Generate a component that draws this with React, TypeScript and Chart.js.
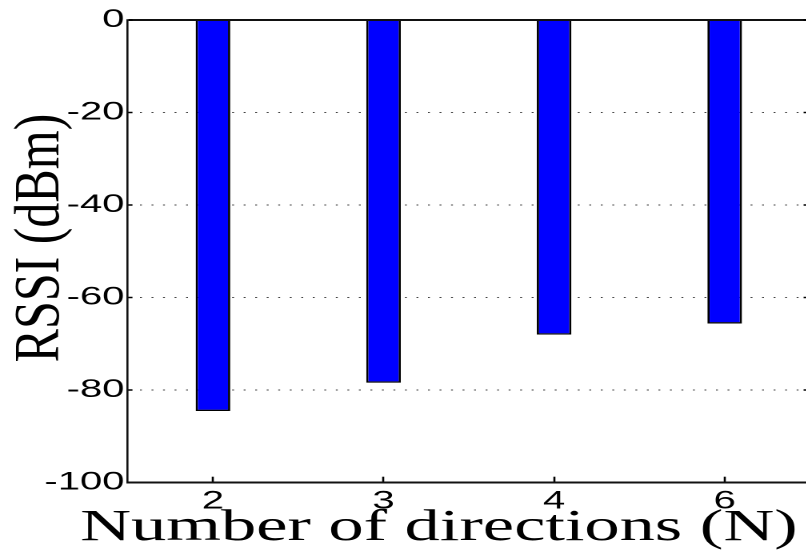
import React, { useEffect, useRef } from 'react';
import { Chart, registerables } from 'chart.js';

Chart.register(...registerables);

// ---- data ----
const categories = ['2', '3', '4', '6'];
const rssiValues = [-84.5, -78.4, -68.0, -65.6];
const yTickValues = [0, -20, -40, -60, -80, -100];
const X_TITLE = 'Number of directions (N)';
const Y_TITLE = 'RSSI (dBm)';

// ---- layout (internal canvas is stretched horizontally like the reference) ----
const STRETCH = 1.6;
const INNER_W = 512;
const OUT_W = 806;
const OUT_H = 554;

const titlesPlugin = {
  id: 'axisTitlesCustom',
  afterDraw(chart: any) {
    const { ctx, chartArea } = chart;
    ctx.save();
    ctx.fillStyle = '#000';
    // x title
    ctx.font = '44px "Liberation Serif"';
    ctx.textAlign = 'center';
    ctx.textBaseline = 'alphabetic';
    ctx.fillText(X_TITLE, chartArea.left + 194.5, chartArea.bottom + 57.3);
    // y title (rotated, less stretched)
    ctx.translate(26, 238);
    ctx.scale(0.81, 1);
    ctx.rotate(-Math.PI / 2);
    ctx.font = '50px "Liberation Serif"';
    ctx.textAlign = 'center';
    ctx.textBaseline = 'middle';
    ctx.fillText(Y_TITLE, 0, 0);
    ctx.restore();
  },
};

export default function App() {
  const canvasRef = useRef<HTMLCanvasElement | null>(null);

  useEffect(() => {
    if (!canvasRef.current) return;
    const tickFont = { family: '"Liberation Sans"', size: 25 };
    const setTicks = (s: any) => {
      s.ticks = yTickValues.map((v) => ({ value: v }));
    };
    const chart = new Chart(canvasRef.current, {
      type: 'bar',
      data: {
        labels: categories,
        datasets: [
          {
            data: rssiValues,
            backgroundColor: '#0000FF',
            borderColor: '#000',
            borderWidth: 1.4,
            barPercentage: 0.203,
            categoryPercentage: 1,
          },
        ],
      },
      options: {
        animation: false,
        responsive: true,
        maintainAspectRatio: false,
        devicePixelRatio: 2,
        layout: { padding: { left: 0, right: 5.75, top: 19, bottom: 0 } },
        plugins: {
          legend: { display: false },
          tooltip: { enabled: false },
          title: { display: false },
        },
        scales: {
          x: {
            type: 'category',
            offset: true,
            grid: {
              display: true,
              drawOnChartArea: false,
              offset: false,
              tickLength: -6,
              tickColor: '#000',
              tickWidth: 1.3,
              color: '#000',
            },
            border: { display: true, color: '#111', width: 2 },
            ticks: {
              color: '#000',
              font: tickFont,
              padding: 10,
              maxRotation: 0,
              autoSkip: false,
            },
            afterFit: (s: any) => {
              s.height = 71.3;
            },
          },
          y: {
            position: 'left',
            min: -100,
            max: 0,
            afterBuildTicks: setTicks,
            grid: {
              color: (c: any) =>
                c.tick && c.tick.value === -100
                  ? 'rgba(0,0,0,0)'
                  : c.tick && c.tick.value === 0
                  ? '#111'
                  : '#444',
              lineWidth: (c: any) => (c.tick && c.tick.value === 0 ? 2 : 1),
              tickLength: -3,
              tickColor: '#000',
              tickWidth: 1.5,
              tickBorderDash: [],
            },
            border: {
              display: true,
              color: '#111',
              width: 1.3,
              dash: (c: any) => (c.tick && c.tick.value === 0 ? [] : [1.2, 6]),
            },
            ticks: { color: '#000', font: tickFont, padding: 5 },
            afterFit: (s: any) => {
              s.width = 79.8;
            },
          },
          y2: {
            position: 'right',
            min: -100,
            max: 0,
            afterBuildTicks: setTicks,
            grid: {
              drawOnChartArea: false,
              tickLength: -4,
              tickColor: '#000',
              tickWidth: 1.5,
            },
            border: { display: true, color: '#111', width: 1.3 },
            ticks: { display: false },
            afterFit: (s: any) => {
              s.width = 0;
            },
          },
        },
      } as any,
      plugins: [titlesPlugin],
    });
    return () => chart.destroy();
  }, []);

  return (
    <div
      style={{
        position: 'fixed',
        left: 0,
        top: 0,
        width: OUT_W,
        height: OUT_H,
        overflow: 'hidden',
        background: '#fff',
      }}
    >
      <div
        style={{
          width: INNER_W,
          height: OUT_H,
          transform: `scaleX(${STRETCH})`,
          transformOrigin: '0 0',
        }}
      >
        <canvas ref={canvasRef} />
      </div>
    </div>
  );
}
